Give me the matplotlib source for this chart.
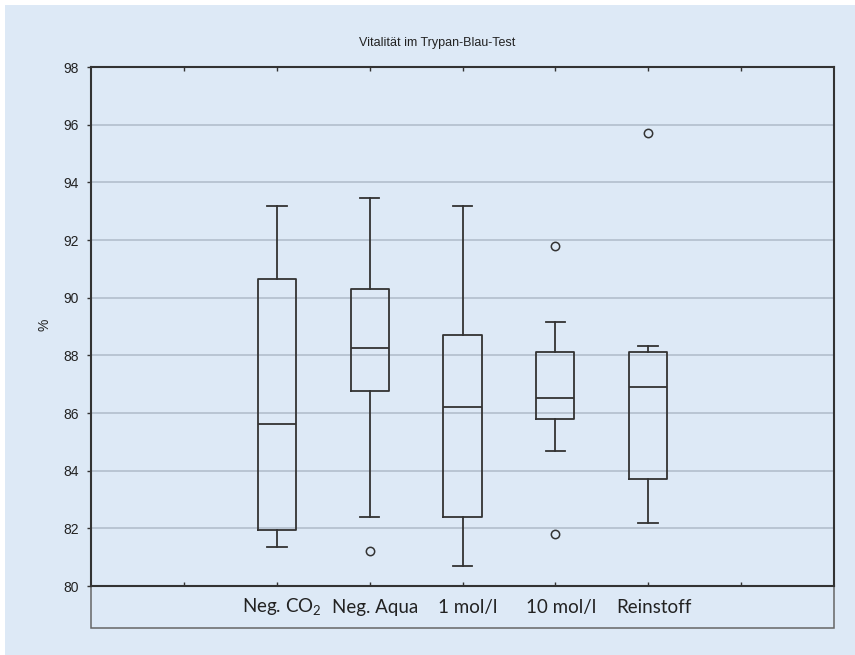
import matplotlib.pyplot as plt
from matplotlib.patches import Rectangle

plt.rcParams['font.family'] = ['Liberation Sans', 'DejaVu Sans']
plt.rcParams['mathtext.fontset'] = 'custom'
plt.rcParams['mathtext.rm'] = 'Lato'

# values
groups = ['Neg. CO$_\\mathregular{2}$', 'Neg. Aqua', '1 mol/l', '10 mol/l', 'Reinstoff']
positions = [2, 3, 4, 5, 6]
whisk_lo = [81.35, 82.40, 80.68, 84.67, 82.20]
q1 = [81.95, 86.78, 82.40, 85.78, 83.70]
median = [85.62, 88.25, 86.22, 86.51, 86.91]
q3 = [90.66, 90.30, 88.71, 88.12, 88.12]
whisk_hi = [93.19, 93.47, 93.19, 89.15, 88.34]
outliers = [[], [81.21], [], [91.80, 81.82], [95.70]]

bg = '#dde9f6'
line = '#333333'

fig = plt.figure(figsize=(8.55, 6.55), dpi=100, facecolor='white')
fig.patches.append(Rectangle((5/855, 0), 1, 1 - 5/655, transform=fig.transFigure,
                             facecolor=bg, edgecolor='none', zorder=-10))

ax = fig.add_axes([91/855, 69/655, 743/855, 519/655])
ax.set_facecolor(bg)

stats = []
for i in range(len(groups)):
    stats.append(dict(med=median[i], q1=q1[i], q3=q3[i], whislo=whisk_lo[i],
                      whishi=whisk_hi[i], fliers=outliers[i]))

ax.bxp(stats, positions=positions, widths=0.41, patch_artist=False,
       boxprops=dict(color=line, linewidth=1.3),
       medianprops=dict(color=line, linewidth=1.3),
       whiskerprops=dict(color=line, linewidth=1.3),
       capprops=dict(color=line, linewidth=1.3),
       capwidths=0.21,
       flierprops=dict(marker='o', markerfacecolor='none', markeredgecolor=line,
                       markersize=6, markeredgewidth=1.1))

ax.set_xlim(0, 8)
ax.set_ylim(80, 98)
ax.set_yticks(range(80, 99, 2))
ax.yaxis.grid(True, color='#b8c5d3', linewidth=1.4)
ax.set_axisbelow(True)

ax.set_xticks(range(1, 8))
ax.set_xticklabels([])
ax.tick_params(axis='x', direction='in', length=3, width=1, top=True, colors=line)
ax.tick_params(axis='y', direction='out', length=3, width=1, labelsize=10, pad=6,
               colors=line, labelcolor='#222222')

for s in ax.spines.values():
    s.set_color(line)
    s.set_linewidth(1.5)

# category names, aligned on a common baseline (slightly right of the ticks, as in the source)
for p, g in zip(positions, groups):
    ax.text(p + 0.06, -0.052, g, transform=ax.get_xaxis_transform(), ha='center',
            va='baseline', fontfamily='Lato', fontsize=13.5, color='#222222')

fig.text(44/855, 1 - 325/655, '%', rotation=90, ha='center', va='center',
         fontsize=10, color='#222222')

# frame below the plot holding the category names
fig.patches.append(Rectangle((91/855, 27/655), 743/855, 42/655, transform=fig.transFigure,
                             facecolor='none', edgecolor='#666666', linewidth=1.1, zorder=-5))

fig.text(437/855, 1 - 43/655, 'Vitalität im Trypan-Blau-Test', ha='center', va='center',
         fontsize=9, color='#222222')

fig.savefig('out.png', dpi=100, facecolor=fig.get_facecolor())
